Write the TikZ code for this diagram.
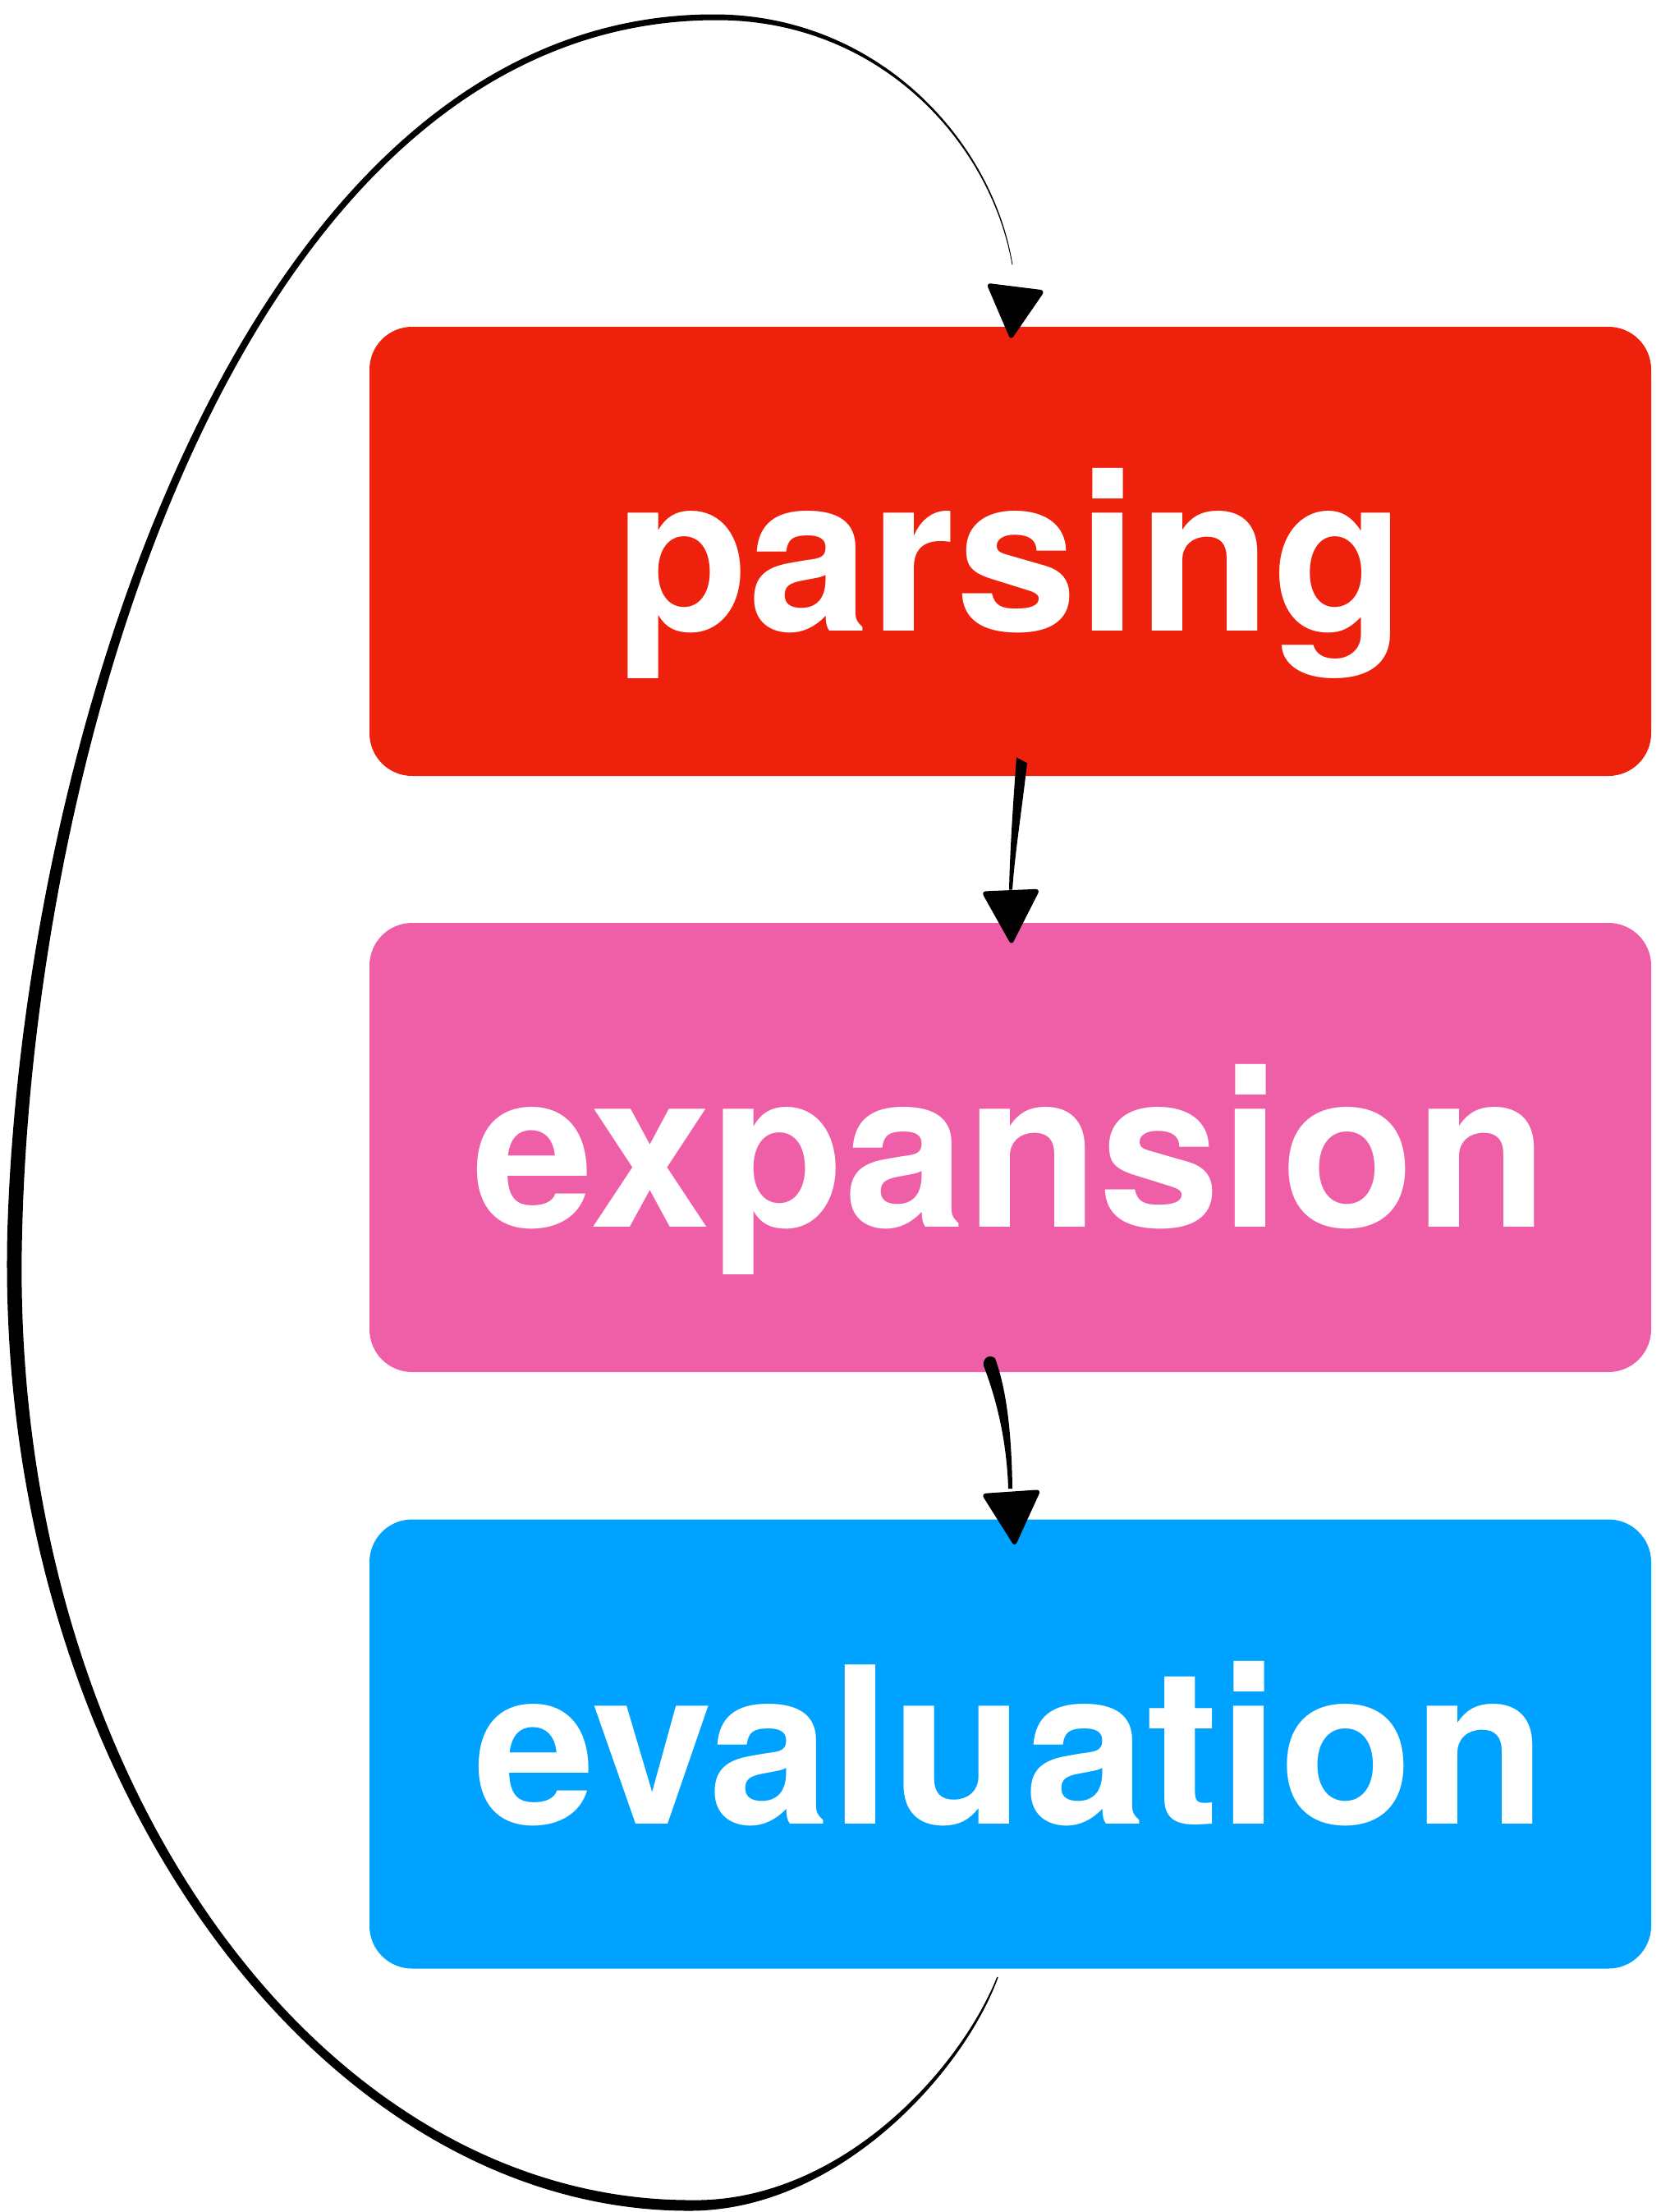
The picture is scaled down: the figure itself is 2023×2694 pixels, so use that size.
\documentclass[tikz,border=0pt]{standalone}
\usepackage{fontspec}
\setmainfont{TeX Gyre Heros}
\usetikzlibrary{calc}
\definecolor{stagered}{HTML}{EE220C}
\definecolor{stagepink}{HTML}{EF5FA7}
\definecolor{stageblue}{HTML}{00A2FF}
% offset points of one cubic piece of a tapered stroke:
% #1 start, #2 #3 controls, #4 end, #5 #6 half widths (pt), #7 prefix
\newcommand\offseg[7]{%
  \pgfmathsetmacro\hA{(2*#5+#6)/3}%
  \pgfmathsetmacro\hB{(#5+2*#6)/3}%
  \coordinate (#7o0) at ($(#1)!#5pt!90:(#2)$);
  \coordinate (#7i0) at ($(#1)!#5pt!-90:(#2)$);
  \coordinate (#7u) at ($(#1)!\hA pt!90:(#2)$);
  \coordinate (#7o1) at ($(#2)+(#7u)-(#1)$);
  \coordinate (#7u) at ($(#1)!\hA pt!-90:(#2)$);
  \coordinate (#7i1) at ($(#2)+(#7u)-(#1)$);
  \coordinate (#7v) at ($(#4)!\hB pt!-90:(#3)$);
  \coordinate (#7o2) at ($(#3)+(#7v)-(#4)$);
  \coordinate (#7v) at ($(#4)!\hB pt!90:(#3)$);
  \coordinate (#7i2) at ($(#3)+(#7v)-(#4)$);
  \coordinate (#7o3) at ($(#4)!#6pt!-90:(#3)$);
  \coordinate (#7i3) at ($(#4)!#6pt!90:(#3)$);
}
\begin{document}
\begin{tikzpicture}[x=0.5pt, y=-0.5pt,
  stage/.style={fill=#1, rounded corners=26pt, minimum width=780.5pt,
    minimum height=273.5pt, inner sep=0pt, text=white,
    font=\fontsize{133}{133}\selectfont\bfseries,
    text height=97pt, text depth=0pt},
  ink/.style={fill=black},
  headtip/.style={fill=black, rounded corners=3pt}]
\useasboundingbox (0,0) rectangle (2023,2694);

% the three stages
\node[stage=stagered]  (parsing)    at (1230.5,671.5)  {parsing};
\node[stage=stagepink] (expansion)  at (1230.5,1397.5) {expansion};
\node[stage=stageblue] (evaluation) at (1230.5,2124)   {evaluation};

% parsing -> expansion: tapered brush stroke and head
\coordinate (a2s) at ($(parsing.south)+(7.5,-23)$);
\coordinate (a2t) at ($(parsing.south)+(20.5,-16)$);
\coordinate (a2e) at ($(expansion.north)+(2.5,-40)$);
\coordinate (a2f) at ($(expansion.north)+(-1.5,-40)$);
\fill[ink] (a2s) -- (a2t) .. controls (1244,990) and (1236,1040) .. (a2e)
  -- (a2f) .. controls (1230,1040) and (1233,990) .. (a2s) -- cycle;
\fill[headtip] ($(expansion.north)+(-35.5,-38)$) -- ($(expansion.north)+(36.5,-41)$)
  -- ($(expansion.north)+(1.5,28)$) -- cycle;

% expansion -> evaluation
\coordinate (a3s) at ($(expansion.south)+(-18.5,-17)$);
\coordinate (a3t) at ($(expansion.south)+(-32.5,-8)$);
\coordinate (a3e) at ($(evaluation.north)+(-2.5,-37)$);
\coordinate (a3f) at ($(evaluation.north)+(2.5,-37)$);
\fill[ink] (a3f) .. controls (1232,1740) and (1225,1690) .. (a3s)
  .. controls (1205,1648) and (1196,1655) .. (a3t)
  .. controls (1212,1700) and (1226,1750) .. (a3e) -- cycle;
\fill[headtip] ($(evaluation.north)+(-35.5,-31)$) -- ($(evaluation.north)+(37.5,-36)$)
  -- ($(evaluation.north)+(5.5,34)$) -- cycle;

% evaluation -> parsing: long loop round the left, four cubic pieces
\coordinate (K0)  at ($(evaluation.south)+(-15.5,10)$);
\coordinate (K0a) at (1170,2525);
\coordinate (K0b) at (1020,2688);
\coordinate (K1)  at (840,2686);
\coordinate (K1a) at (386,2686);
\coordinate (K1b) at (0.5,2156);
\coordinate (K2)  at (18,1500);
\coordinate (K2a) at (34,900);
\coordinate (K2b) at (300,21);
\coordinate (K3)  at (871,21);
\coordinate (K3a) at (1071,21);
\coordinate (K3b) at (1208,173);
\coordinate (K4)  at ($(parsing.north)+(2.5,-75)$);
\offseg{K0}{K0a}{K0b}{K1}{0.375}{3.25}{sa}
\offseg{K1}{K1a}{K1b}{K2}{3.25}{4.5}{sb}
\offseg{K2}{K2a}{K2b}{K3}{4.5}{1.75}{sc}
\offseg{K3}{K3a}{K3b}{K4}{1.75}{0.2}{sd}
\fill[ink] (sao0) .. controls (sao1) and (sao2) .. (sao3)
  .. controls (sbo1) and (sbo2) .. (sbo3)
  .. controls (sco1) and (sco2) .. (sco3)
  .. controls (sdo1) and (sdo2) .. (sdo3)
  -- (sdi3) .. controls (sdi2) and (sdi1) .. (sdi0)
  .. controls (sci2) and (sci1) .. (sci0)
  .. controls (sbi2) and (sbi1) .. (sbi0)
  .. controls (sai2) and (sai1) .. (sai0) -- cycle;
\fill[headtip] ($(parsing.north)+(-29.5,-53)$) -- ($(parsing.north)+(42.5,-44)$)
  -- ($(parsing.north)+(0.5,17)$) -- cycle;
\end{tikzpicture}
\end{document}
